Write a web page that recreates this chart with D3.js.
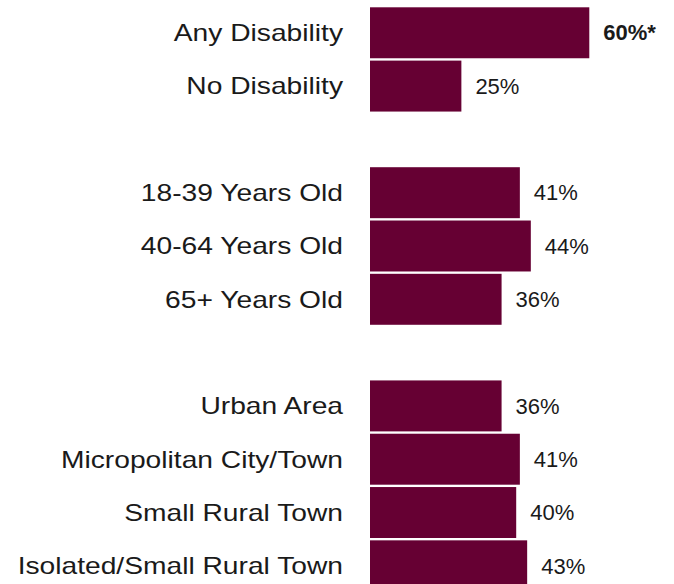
<!DOCTYPE html>
<html>
<head>
<meta charset="utf-8">
<script src="https://cdn.jsdelivr.net/npm/d3@7"></script>
<style>
  html, body { margin: 0; padding: 0; background: #fff; }
  svg { display: block; }
  text { font-family: "Liberation Sans", Arial, sans-serif; fill: #1a1a1a; }
</style>
</head>
<body>
<svg id="chart"></svg>
<script>
// rows top to bottom, "" = spacer row between groups
const categories = [
    "Any Disability", "No Disability", "",
    "18-39 Years Old", "40-64 Years Old", "65+ Years Old", "",
    "Urban Area", "Micropolitan City/Town", "Small Rural Town", "Isolated/Small Rural Town"
];
const values = [60, 25, null, 41, 44, 36, null, 36, 41, 40, 43];
const significant = [true, false, false, false, false, false, false, false, false, false, false];

const width = 674, height = 584;
const barColor = "#660033";

const rows = categories.map((c, i) => ({ key: i, name: c, value: values[i], sig: significant[i] }));

const svg = d3.select("#chart")
    .attr("width", width)
    .attr("height", height);

const y = d3.scaleBand()
    .domain(rows.map(d => d.key))
    .range([7.3, 591.3])
    .paddingInner(0.044)
    .paddingOuter(0);

const x = d3.scaleLinear()
    .domain([0, 60])
    .range([370, 589.3]);

const bars = rows.filter(d => d.value != null);

svg.append("g")
    .selectAll("rect")
    .data(bars)
    .join("rect")
    .attr("x", x(0))
    .attr("y", d => y(d.key))
    .attr("width", d => x(d.value) - x(0))
    .attr("height", y.bandwidth())
    .attr("fill", barColor);

// category labels, stretched a bit since the original font is wider
svg.append("g")
    .selectAll("text")
    .data(bars)
    .join("text")
    .attr("transform", d => `translate(${x(0) - 27},${y(d.key) + y.bandwidth() / 2}) scale(1.175,1)`)
    .attr("dy", "0.35em")
    .attr("text-anchor", "end")
    .style("font-size", "24px")
    .text(d => d.name);

// value labels
svg.append("g")
    .selectAll("text")
    .data(bars)
    .join("text")
    .attr("x", d => x(d.value) + 14)
    .attr("y", d => y(d.key) + y.bandwidth() / 2)
    .attr("dy", "0.35em")
    .style("font-size", "22px")
    .style("font-weight", d => d.sig ? "bold" : "normal")
    .text(d => d.value + "%" + (d.sig ? "*" : ""));
</script>
</body>
</html>
